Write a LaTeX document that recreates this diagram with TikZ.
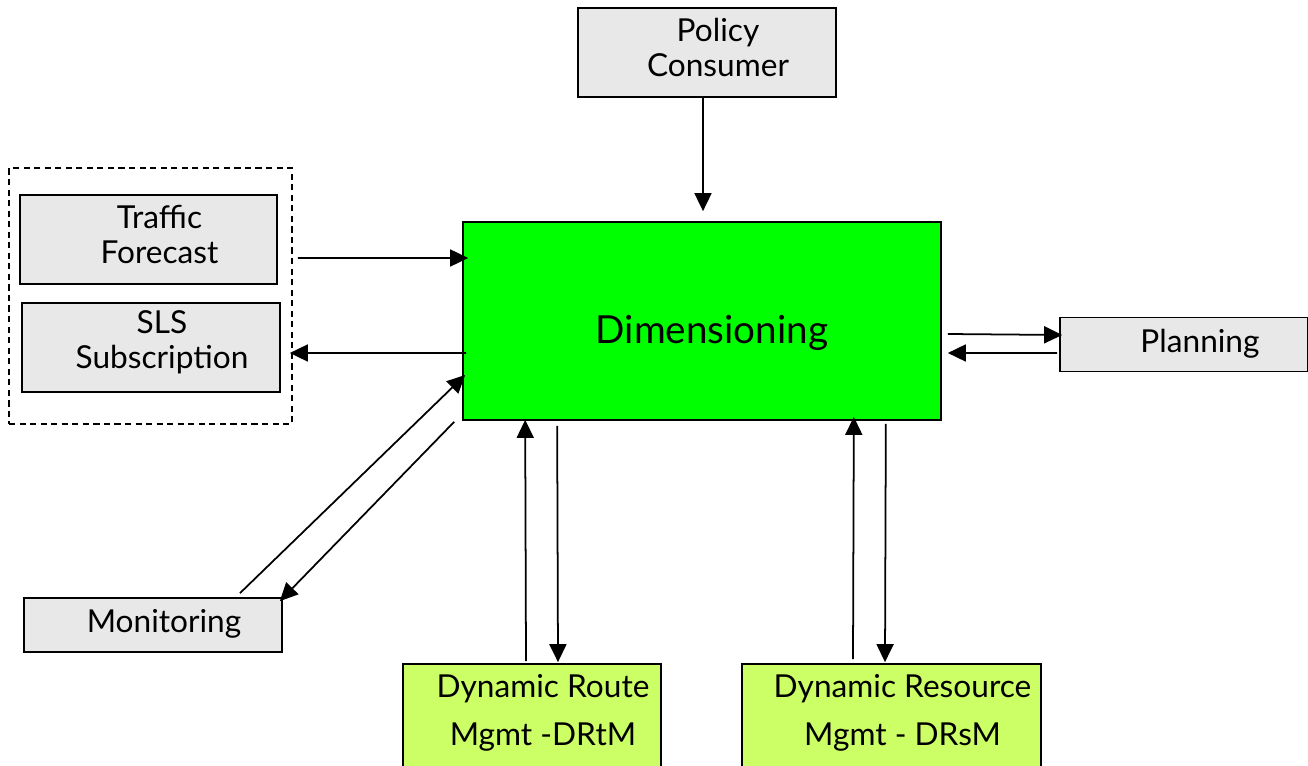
\documentclass[tikz,border=0pt]{standalone}
\usepackage{fontspec}
\setmainfont{Lato}
\usepackage{xcolor}
\usepackage{tikz}
\usetikzlibrary{arrows.meta}
\definecolor{boxgrey}{HTML}{E8E8E8}
\definecolor{dimgreen}{HTML}{00FF00}
\definecolor{mgmtgreen}{HTML}{CCFF66}
\tikzstyle{box text}=[align=center, font=\fontsize{18}{20}\selectfont, shift={(11,-5)}]
\tikzstyle{grey box}=[fill=boxgrey, draw=black, line width=1pt, shape=rectangle, minimum width=5.16cm, minimum height=1.78cm]
\tikzstyle{flat box}=[grey box, minimum height=1.08cm]
\tikzstyle{mgmt box}=[fill=mgmtgreen, draw=black, line width=1pt, shape=rectangle, minimum width=5.16cm, minimum height=2.16cm]
\tikzstyle{group box}=[draw=black, line width=1pt, dash pattern=on 3.5pt off 2.5pt, shape=rectangle, minimum width=5.66cm, minimum height=5.12cm]
\tikzstyle{dim box}=[fill=dimgreen, draw=black, line width=1pt, shape=rectangle, minimum width=9.56cm, minimum height=3.96cm]
\tikzstyle{arrow}=[-{Triangle[length=0.36cm, width=0.34cm]}, draw=black, line width=1pt]
\pgfdeclarelayer{nodelayer}
\pgfdeclarelayer{edgelayer}
\pgfsetlayers{nodelayer,edgelayer,main}
\begin{document}
\begin{tikzpicture}[x={(0.02cm,0)}, y={(0,-0.02cm)}]
	\useasboundingbox (0,0) rectangle (1308,766);
	\begin{pgfonlayer}{nodelayer}
		\node [style=grey box, label={[style=box text]center:Policy\\Consumer}] (0) at (707, 52.5) {};
		\node [style=group box] (3) at (150.5, 296) {};
		\node [style=grey box, minimum width=5.14cm, label={[style=box text]center:Traffic\\Forecast}] (1) at (148.5, 239.5) {};
		\node [style=grey box, label={[style=box text]center:SLS\\Subscription}] (2) at (151, 347.5) {};
		\node [style=dim box, label={[font=\fontsize{22}{26}\selectfont, shift={(10,12)}]center:Dimensioning}] (4) at (702, 321) {};
		\node [style=flat box, minimum width=4.96cm, label={[style=box text, shift={(5,4)}]center:Planning}] (5) at (1184, 344.5) {};
		\node [style=flat box, label={[style=box text, shift={(0,4)}]center:Monitoring}] (6) at (153, 625) {};
		\node [style=mgmt box, label={[style=box text, font=\fontsize{18}{27}\selectfont]center:Dynamic Route\\Mgmt -DRtM}] (7) at (532, 718) {};
		\node [style=mgmt box, minimum width=5.98cm, label={[style=box text, font=\fontsize{18}{27}\selectfont]center:Dynamic Resource\\Mgmt - DRsM}] (8) at (891.5, 718) {};
	\end{pgfonlayer}
	\begin{pgfonlayer}{edgelayer}
		\draw [style=arrow] ([shift={(-4,0)}]0.south) to ([shift={(1,-10)}]4.north);
		\draw [style=arrow] ([shift={(20,18.5)}]1.east) to ([shift={(6,-63)}]4.west);
		\draw [style=arrow] ([shift={(4,32)}]4.west) to ([shift={(9,5.5)}]2.east);
		\draw [style=arrow] ([shift={(87,-4)}]6.north) to ([shift={(3,54)}]4.west);
		\draw [style=arrow] ([shift={(-8,1)}]4.south west) to ([shift={(-3,4)}]6.north east);
		\draw [style=arrow] ([shift={(-6,-2)}]7.north) to ([shift={(63,-1)}]4.south west);
		\draw [style=arrow] ([shift={(95,5)}]4.south west) to ([shift={(26,-1)}]7.north);
		\draw [style=arrow] ([shift={(-38.5,-4)}]8.north) to ([shift={(-88,-4)}]4.south east);
		\draw [style=arrow] ([shift={(-56,3)}]4.south east) to ([shift={(-6.5,-1)}]8.north);
		\draw [style=arrow] ([shift={(6,13)}]4.east) to ([shift={(3,-9.5)}]5.west);
		\draw [style=arrow] ([shift={(-2,8.5)}]5.west) to ([shift={(6,32)}]4.east);
	\end{pgfonlayer}
\end{tikzpicture}
\end{document}
